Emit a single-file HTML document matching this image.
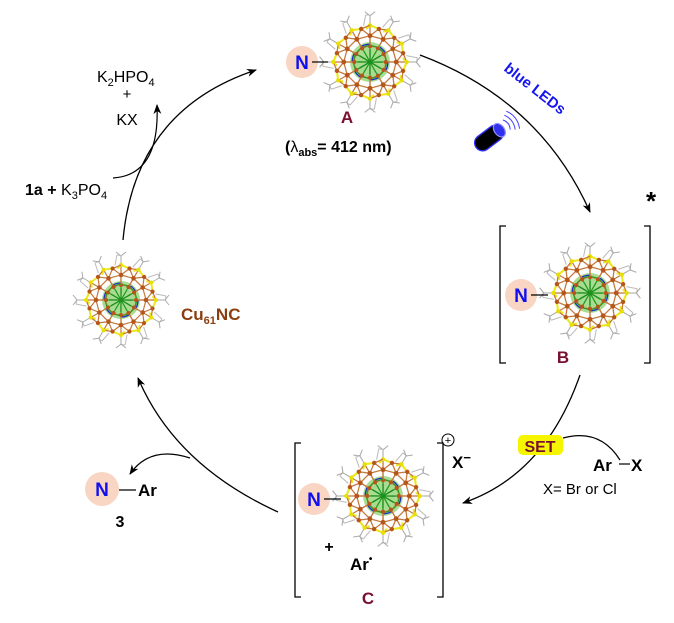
<!DOCTYPE html>
<html><head><meta charset="utf-8"><style>
html,body{margin:0;padding:0;background:#fff;}
svg{display:block;font-family:"Liberation Sans",Arial,sans-serif;}
</style></head><body>
<svg width="674" height="623" viewBox="0 0 674 623" xmlns="http://www.w3.org/2000/svg">
<defs>
<marker id="ar" markerWidth="10" markerHeight="8" refX="9" refY="4" orient="auto" markerUnits="userSpaceOnUse">
<path d="M0,0 L10,4 L0,8 L3,4 Z" fill="#000"/>
</marker>
<g id="spoke">
<line x1="0" y1="-35" x2="0" y2="-44" stroke="#aaa" stroke-width="1"/>
<line x1="0" y1="-44" x2="-5" y2="-48" stroke="#aaa" stroke-width="1"/>
<line x1="0" y1="-44" x2="5" y2="-48" stroke="#aaa" stroke-width="1"/>
<line x1="12" y1="-33" x2="19" y2="-41" stroke="#bbb" stroke-width="1"/>
<line x1="19" y1="-41" x2="23" y2="-38" stroke="#bbb" stroke-width="1"/>
<path d="M0,-35 L8.5,-31.5 M12.5,-29 L17.5,-30.3" stroke="#ece820" stroke-width="2"/>
<path d="M0,-35 L0,-25 L12.5,-21.7 L8.5,-31.5 L0,-25 M8.5,-31.5 L17.5,-30.3 M0,-25 L0,-15 L8,-13.9 L12.5,-21.7" fill="none" stroke="#c5783c" stroke-width="1.2"/>
<path d="M0,0 L0,-16 L8,-13.9 M0,0 L6,-10" fill="none" stroke="#1f9a1f" stroke-width="1"/>
<circle cx="0" cy="-25" r="2.3" fill="#b5561a"/>
<circle cx="8.5" cy="-31.5" r="2.1" fill="#b5561a"/>
<circle cx="0" cy="-15" r="2" fill="#b5561a"/>
<circle cx="12.5" cy="-21.7" r="1.8" fill="#b5561a"/>
<circle cx="0" cy="-35" r="2" fill="#e8e000"/>
</g>
<g id="cl">
<circle r="19" fill="#a8dc90"/>
<circle r="17" fill="none" stroke="#2030c0" stroke-width="1.3" stroke-dasharray="8 10"/>
<use href="#spoke"/>
<use href="#spoke" transform="rotate(30)"/>
<use href="#spoke" transform="rotate(60)"/>
<use href="#spoke" transform="rotate(90)"/>
<use href="#spoke" transform="rotate(120)"/>
<use href="#spoke" transform="rotate(150)"/>
<use href="#spoke" transform="rotate(180)"/>
<use href="#spoke" transform="rotate(210)"/>
<use href="#spoke" transform="rotate(240)"/>
<use href="#spoke" transform="rotate(270)"/>
<use href="#spoke" transform="rotate(300)"/>
<use href="#spoke" transform="rotate(330)"/>
<path d="M-10,-6 L10,6 M-10,6 L10,-6 M0,-12 L0,12 M-12,0 L12,0" stroke="#1f8f1f" stroke-width="1.2"/>
</g>
</defs>

<path d="M420,55 Q540,100 590,212" fill="none" stroke="#000" stroke-width="1.3" marker-end="url(#ar)"/>
<path d="M580,375 Q545,475 463,503" fill="none" stroke="#000" stroke-width="1.3" marker-end="url(#ar)"/>
<path d="M278,512 Q175,465 138,378" fill="none" stroke="#000" stroke-width="1.3" marker-end="url(#ar)"/>
<path d="M123,240 Q135,110 256,70" fill="none" stroke="#000" stroke-width="1.3" marker-end="url(#ar)"/>
<path d="M113,178 Q160,175 157,105" fill="none" stroke="#000" stroke-width="1.2" marker-end="url(#ar)"/>
<path d="M190,458 Q150,445 130,474" fill="none" stroke="#000" stroke-width="1.2" marker-end="url(#ar)"/>
<path d="M563,438 Q600,428 620,460" fill="none" stroke="#000" stroke-width="1.2"/>

<use href="#cl" transform="translate(370,62) scale(1.05)"/>
<circle cx="302" cy="62" r="16" fill="#f9d5c3"/>
<text x="302" y="69" font-size="19" font-weight="bold" fill="#1010ee" text-anchor="middle">N</text>
<line x1="312" y1="62" x2="328" y2="62" stroke="#000" stroke-width="1.2"/>
<text x="347" y="123" font-size="17" font-weight="bold" fill="#7a1030" text-anchor="middle">A</text>
<text x="285" y="152" font-size="16" font-weight="bold">(<tspan font-weight="normal">λ</tspan><tspan font-size="11" dy="4">abs</tspan><tspan dy="-4">= 412 nm)</tspan></text>

<text x="503" y="70" font-size="15" font-weight="bold" fill="#1515ee" transform="rotate(38 503 70)">blue LEDs</text>
<g transform="translate(489,138) rotate(-37)">
<rect x="-16" y="-8" width="32" height="16" rx="8" fill="#000" stroke="#3030ff" stroke-width="1.3"/>
<ellipse cx="13" cy="0" rx="5" ry="7.5" fill="#3030ee" stroke="#9090ff" stroke-width="1.2"/>
<path d="M22,-6 Q26,0 22,6 M26,-9 Q31,0 26,9 M30,-11 Q36,0 30,11" fill="none" stroke="#4040ff" stroke-width="1"/>
</g>

<text x="646" y="210" font-size="26" font-weight="bold">*</text>
<path d="M506,226 L500,226 L500,363 L506,363 M644,226 L650,226 L650,363 L644,363" fill="none" stroke="#000" stroke-width="1.3"/>
<use href="#cl" transform="translate(590,293) scale(1.05)"/>
<circle cx="521" cy="295" r="16" fill="#f9d5c3"/>
<text x="521" y="302" font-size="19" font-weight="bold" fill="#1010ee" text-anchor="middle">N</text>
<line x1="531" y1="295" x2="548" y2="295" stroke="#000" stroke-width="1.2"/>
<text x="563" y="363" font-size="17" font-weight="bold" fill="#7a1030" text-anchor="middle">B</text>

<rect x="518" y="435" width="45" height="20" rx="5" fill="#f5f500"/>
<text x="540" y="452" font-size="16" font-weight="bold" fill="#7a1030" text-anchor="middle">SET</text>
<text x="593" y="471" font-size="17" font-weight="bold">Ar</text>
<line x1="619" y1="464" x2="630" y2="464" stroke="#000" stroke-width="1.2"/>
<text x="631" y="471" font-size="17" font-weight="bold">X</text>
<text x="543" y="494" font-size="15">X= Br or Cl</text>

<path d="M301,443 L295,443 L295,597 L301,597 M437,443 L443,443 L443,597 L437,597" fill="none" stroke="#000" stroke-width="1.3"/>
<use href="#cl" transform="translate(383,496) scale(1.05)"/>
<circle cx="314" cy="499" r="16" fill="#f9d5c3"/>
<text x="314" y="506" font-size="19" font-weight="bold" fill="#1010ee" text-anchor="middle">N</text>
<line x1="324" y1="499" x2="341" y2="499" stroke="#000" stroke-width="1.2"/>
<text x="329" y="552" font-size="16" font-weight="bold" text-anchor="middle">+</text>
<text x="350" y="570" font-size="17" font-weight="bold">Ar<tspan font-size="10" dy="-8">•</tspan></text>
<text x="368" y="604" font-size="17" font-weight="bold" fill="#7a1030" text-anchor="middle">C</text>
<circle cx="448" cy="440" r="6" fill="none" stroke="#000" stroke-width="1"/>
<text x="448" y="444" font-size="11" text-anchor="middle">+</text>
<text x="452" y="468" font-size="17" font-weight="bold">X<tspan font-size="13" dy="-6">−</tspan></text>

<circle cx="102" cy="489" r="17" fill="#f9d5c3"/>
<text x="102" y="496" font-size="19" font-weight="bold" fill="#1010ee" text-anchor="middle">N</text>
<line x1="119" y1="490" x2="136" y2="490" stroke="#000" stroke-width="1.2"/>
<text x="138" y="496" font-size="17" font-weight="bold">Ar</text>
<text x="120" y="527" font-size="16" font-weight="bold" text-anchor="middle">3</text>

<use href="#cl" transform="translate(121,300) scale(1.0)"/>
<text x="181" y="320" font-size="17" font-weight="bold" fill="#8b3e10">Cu<tspan font-size="11" dy="4">61</tspan><tspan dy="-4">NC</tspan></text>

<text x="97" y="82" font-size="16">K<tspan font-size="11" dy="4">2</tspan><tspan dy="-4">HPO</tspan><tspan font-size="11" dy="4">4</tspan></text>
<text x="127" y="99" font-size="15" text-anchor="middle">+</text>
<text x="127" y="125" font-size="16" text-anchor="middle">KX</text>
<text x="25" y="195" font-size="16"><tspan font-weight="bold">1a +</tspan> K<tspan font-size="11" dy="4">3</tspan><tspan dy="-4">PO</tspan><tspan font-size="11" dy="4">4</tspan></text>
</svg>
</body></html>
